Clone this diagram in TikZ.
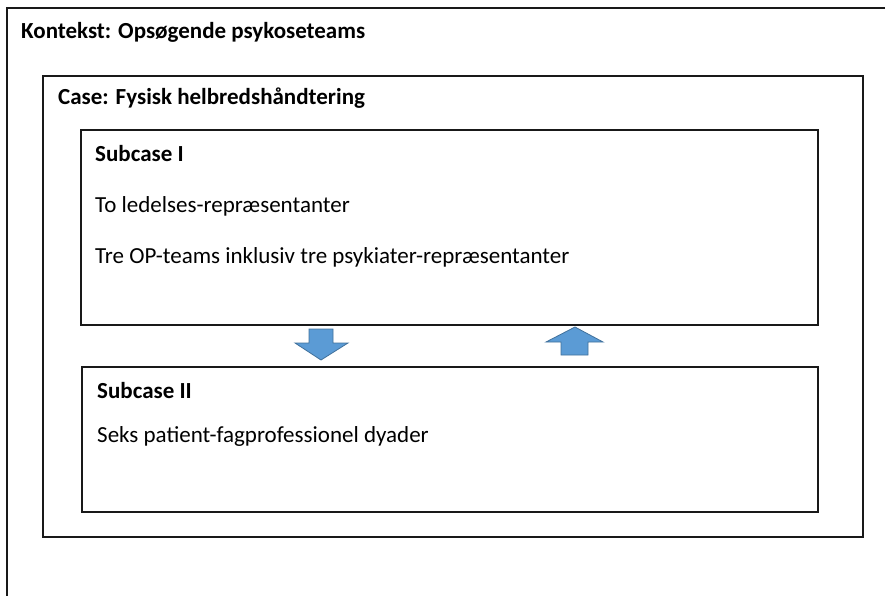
\documentclass[tikz,border=0pt]{standalone}
\usepackage{fontspec}
\setmainfont{Carlito}
\definecolor{arrblue}{HTML}{5B9BD5}
\definecolor{arrline}{HTML}{41719C}
\begin{document}
\begin{tikzpicture}[x=1pt, y=-1pt,
    box/.style={draw=black!90, line width=1.3pt, inner sep=0pt, outer sep=0pt, anchor=north west},
    arr/.style={fill=arrblue, draw=arrline, line width=0.8pt},
    lbl/.style={anchor=base west, inner sep=0pt, font=\fontsize{23}{26}\selectfont},
    ttl/.style={anchor=base west, inner sep=0pt, font=\fontsize{23}{26}\selectfont\bfseries}]
\useasboundingbox (0,0) rectangle (895,595);
% outer context frame (cut off right and bottom)
\draw[draw=black!90, line width=1.3pt] (885,8)--(7,8)--(7,600);
\node[ttl] (kontekst) at (21,38) {Kontekst: Opsøgende psykoseteams};
% case
\node[box, minimum width=820pt, minimum height=461pt] (case) at (43,76) {};
\node[ttl] (casettl) at ([shift={(15,28)}]case.north west) {Case: Fysisk helbredshåndtering};
% subcases
\node[box, minimum width=737pt, minimum height=195pt] (sub1) at (81,130) {};
\node[ttl] (sub1ttl) at ([shift={(14,31)}]sub1.north west) {Subcase I};
\node[lbl] (ledelse) at ([shift={(14,82)}]sub1.north west) {To ledelses-repræsentanter};
\node[lbl] (teams) at ([shift={(14,133)}]sub1.north west) {Tre OP-teams inklusiv tre psykiater-repræsentanter};
\node[box, minimum width=736pt, minimum height=145pt] (sub2) at (82,367) {};
\node[ttl] (sub2ttl) at ([shift={(15,31)}]sub2.north west) {Subcase II};
\node[lbl] (dyader) at ([shift={(15,75)}]sub2.north west) {Seks patient-fagprofessionel dyader};
% arrows between subcases
\draw[arr] (309,329)--(333,329)--(333,343)--(348,343)--(321,360)--(295,343)--(309,343)--cycle;
\draw[arr] (561,355)--(588,355)--(588,342)--(603,342)--(575,327)--(546,342)--(561,342)--cycle;
\end{tikzpicture}
\end{document}
